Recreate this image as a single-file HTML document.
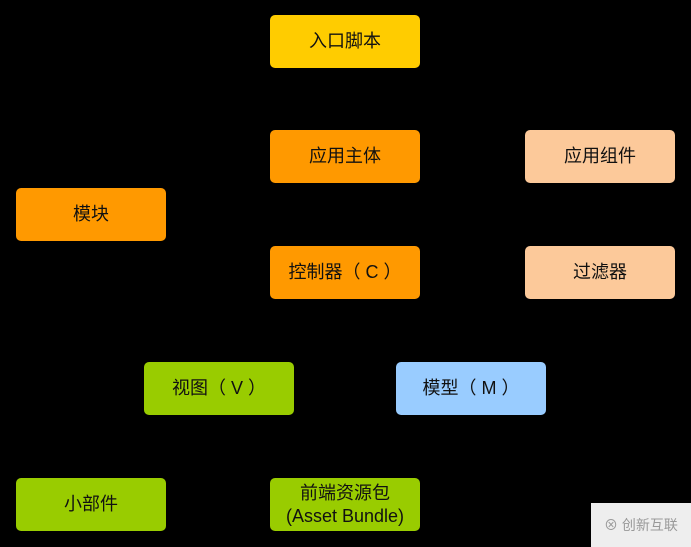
<!DOCTYPE html><html><head><style>
body{margin:0;width:691px;height:547px;background:#000;position:relative;overflow:hidden;font-family:"Liberation Sans","Noto Sans CJK SC",sans-serif}
.b{position:absolute;width:150px;height:53px;border-radius:5px;display:flex;align-items:center;justify-content:center;text-align:center;font-size:18px;color:#111;line-height:23px}
.y{background:#ffcc00}.o{background:#ff9900}.p{background:#fcc99a}.g{background:#99cc00}.l{background:#99ccff}
</style></head><body>
<div class="b y" style="left:270px;top:15px">入口脚本</div>
<div class="b o" style="left:270px;top:130px">应用主体</div>
<div class="b p" style="left:525px;top:130px">应用组件</div>
<div class="b o" style="left:16px;top:188px">模块</div>
<div class="b o" style="left:270px;top:246px">控制器（ C ）</div>
<div class="b p" style="left:525px;top:246px">过滤器</div>
<div class="b g" style="left:144px;top:362px">视图（ V ）</div>
<div class="b l" style="left:396px;top:362px">模型（ M ）</div>
<div class="b g" style="left:16px;top:478px">小部件</div>
<div class="b g" style="left:270px;top:478px">前端资源包<br>(Asset Bundle)</div>
<div style="position:absolute;left:591px;top:503px;width:100px;height:44px;background:#eee;color:#999;font-size:14px;display:flex;align-items:center;justify-content:center">⊗ 创新互联</div>
</body></html>
